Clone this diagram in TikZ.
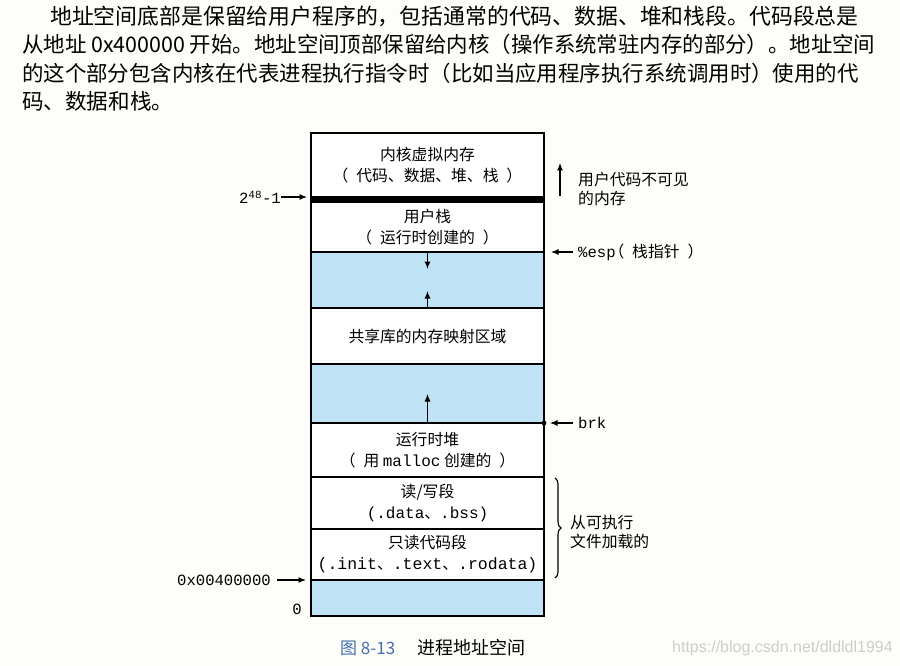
\documentclass[tikz,border=0pt]{standalone}
\usepackage{fontspec}
\setmainfont{Noto Sans CJK SC}
\setmonofont{Liberation Mono}
\newfontfamily\wmfont{Liberation Sans}
\usetikzlibrary{arrows.meta,decorations.pathreplacing}
\definecolor{memblue}{RGB}{192,226,245}
\definecolor{capblue}{RGB}{70,110,175}
\definecolor{wmgray}{RGB}{205,205,205}
\definecolor{paper}{RGB}{253,253,249}
\newcommand{\lpar}{\makebox[1.05em][r]{（\hspace{0.5em}}}
\newcommand{\rpar}{\makebox[1.05em][l]{\hspace{0.5em}）}}
\begin{document}
\begin{tikzpicture}[x=1pt,y=-1pt,
  seg/.style={draw=black,line width=1.5pt,fill=white,inner sep=0pt,outer sep=0pt,
    minimum width=233pt,anchor=north west,align=center,
    font=\fontsize{15.8}{21}\selectfont},
  gapseg/.style={seg,fill=memblue},
  side/.style={anchor=west,inner sep=0pt,align=left,font=\fontsize{15.8}{18.5}\selectfont},
  addr/.style={anchor=east,inner sep=0pt,font=\fontsize{15.6}{18}\ttfamily},
  arr/.style={-{Latex[length=7.5pt,width=6pt]},line width=1.1pt},
  para/.style={anchor=west,inner sep=0pt}]
\useasboundingbox[fill=paper] (0,0) rectangle (900,666);

% paragraph
\node[para,font=\fontsize{21.85}{26}\selectfont] (p1) at (50,16) {地址空间底部是保留给用户程序的，包括通常的代码、数据、堆和栈段。代码段总是};
\node[para,font=\fontsize{21.42}{26}\selectfont] (p2) at (22,44) {从地址 0x400000 开始。地址空间顶部保留给内核（操作系统常驻内存的部分）。地址空间};
\node[para,font=\fontsize{21.45}{26}\selectfont] (p3) at (22,73) {的这个部分包含内核在代表进程执行指令时（比如当应用程序执行系统调用时）使用的代};
\node[para,font=\fontsize{21.6}{26}\selectfont] (p4) at (22,101) {码、数据和栈。};

% memory segments
\node[seg,minimum height=64pt] (kern) at (311,133) {内核虚拟内存\\\lpar 代码、数据、堆、栈\rpar};
\node[seg,fill=black,minimum height=5pt] (band) at (311,197) {};
\node[seg,minimum height=50pt] (ustack) at (311,202) {用户栈\\\lpar 运行时创建的\rpar};
\node[gapseg,minimum height=56pt] (gapa) at (311,252) {};
\node[seg,minimum height=56pt] (shlib) at (311,308) {共享库的内存映射区域};
\node[gapseg,minimum height=59pt] (gapb) at (311,364) {};
\node[seg,minimum height=54pt] (heap) at (311,423) {运行时堆\\\lpar 用 {\fontsize{16}{21}\ttfamily malloc} 创建的\rpar};
\node[seg,minimum height=52pt] (rw) at (311,477) {读/写段\\{\fontsize{16}{21}\ttfamily(.data}、{\fontsize{16}{21}\ttfamily.bss)}};
\node[seg,minimum height=51pt] (ro) at (311,529) {只读代码段\\{\fontsize{16.5}{21}\ttfamily(.init}、{\fontsize{16.5}{21}\ttfamily.text}、{\fontsize{16.5}{21}\ttfamily.rodata)}};
\node[gapseg,minimum height=36pt] (gapc) at (311,580) {};

% growth arrows inside free areas
\coordinate (stacktip) at (427.5,269);
\coordinate (mmaptip) at (427.5,291);
\coordinate (heaptip) at (427.5,394);
\draw[arr] (gapa.north) -- (stacktip);
\draw[arr] (gapa.south) -- (mmaptip);
\draw[arr] (gapb.south) -- (heaptip);

% left addresses
\node[addr] (top) at (281,197) {2\textsuperscript{48}-1};
\coordinate (topend) at (307,197);
\draw[arr] (top.east) -- (topend);
\node[addr] (text0) at (271,580) {0x00400000};
\coordinate (textend) at (306,580);
\draw[arr] ([xshift=6pt]text0.east) -- (textend);
\node[addr] (zero) at (302,609) {0};

% right annotations
\coordinate (invb) at (560,196);
\coordinate (invt) at (560,163);
\draw[arr] (invb) -- (invt);
\node[side] (inv) at (578,189) {用户代码不可见\\的内存};

\node[side] (esp) at (578,252) {{\fontsize{15.6}{18}\ttfamily\%esp}\lpar 栈指针\rpar};
\coordinate (espend) at (551,252);
\draw[arr] ([xshift=-5pt]esp.west) -- (espend);

\fill (heap.north east) circle (2.4pt);
\node[side] (brk) at (578,423) {{\fontsize{15.6}{18}\ttfamily brk}};
\coordinate (brkend) at (550,423);
\draw[arr] ([xshift=-5pt]brk.west) -- (brkend);

\coordinate (bra) at (555,478);
\coordinate (brb) at (555,578);
\draw[line width=1.1pt,decorate,decoration={brace,amplitude=6pt}] (bra) -- (brb);
\node[side,font=\fontsize{15.8}{20}\selectfont] (load) at (570,532) {从可执行\\文件加载的};

% caption
\node[anchor=west,inner sep=0pt,text=capblue,font=\fontsize{17}{20}\selectfont] (fig) at (340,648) {图 8-13};
\node[anchor=west,inner sep=0pt,font=\fontsize{18}{20}\selectfont] (cap) at (417,648) {进程地址空间};
\node[anchor=west,inner sep=0pt,text=wmgray,font=\fontsize{16}{20}\wmfont] (wm) at (672,648) {https://blog.csdn.net/dldldl1994};
\end{tikzpicture}
\end{document}
